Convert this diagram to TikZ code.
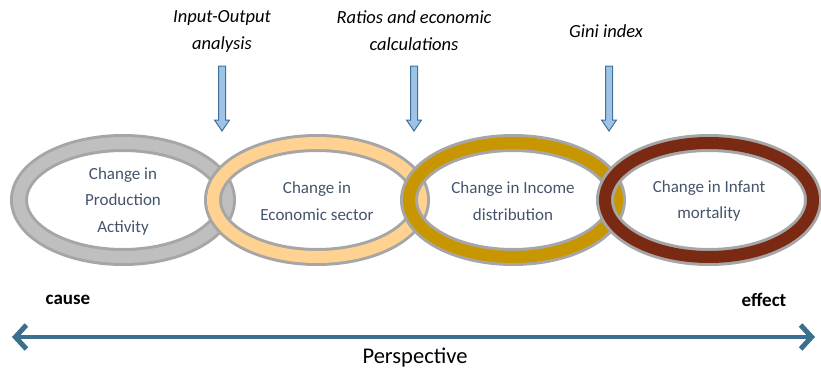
\documentclass[tikz,border=0pt]{standalone}
\usepackage{fontspec}
\setmainfont{Carlito}
\usepackage{tikz}
\usetikzlibrary{calc, positioning, arrows.meta}
\definecolor{ringgray}{RGB}{191,191,191}
\definecolor{ringedge}{RGB}{166,166,166}
\definecolor{sector}{RGB}{255,210,145}
\definecolor{income}{RGB}{200,150,0}
\definecolor{infant}{RGB}{122,42,18}
\definecolor{ringtxt}{RGB}{68,84,106}
\definecolor{pfill}{RGB}{157,195,230}
\definecolor{pedge}{RGB}{65,113,156}
\definecolor{persp}{RGB}{58,111,143}
\newcommand\chainring[4]{\draw[line width=18pt, draw=ringedge] (#1,200) ellipse [x radius=104, y radius=57];\draw[line width=12pt, draw=#3] (#1,200) ellipse [x radius=104, y radius=57];\node[ringtext] (#2) at (#1,201) {#4};}
\newcommand\toolarrow[2]{\coordinate (#1) at (#2,131);\filldraw[fill=pfill, draw=pedge, line width=1pt, shift={(#1)}] (-3.5,-65) -- (-3.5,-11) -- (-7.5,-11) -- (0,0) -- (7.5,-11) -- (3.5,-11) -- (3.5,-65) -- cycle;}

\begin{document}
\begin{tikzpicture}[x=1pt, y=-1pt,
	ringtext/.style={text=ringtxt, align=center, font=\fontsize{17}{26.5}\selectfont},
	tooltext/.style={align=center, font=\fontsize{18.5}{27}\selectfont\itshape},
	endtext/.style={font=\fontsize{19}{22}\selectfont\bfseries}]
\useasboundingbox (0,0) rectangle (821,375);
	\chainring{123}{prod}{ringgray}{Change in\\Production\\Activity}
	\chainring{317}{sect}{sector}{Change in\\Economic sector}
	\chainring{513}{inc}{income}{Change in Income\\distribution}
	\chainring{709}{inf}{infant}{Change in Infant\\mortality}

	\node[tooltext] (io) at (222,31) {Input-Output\\analysis};
	\node[tooltext] (ratio) at (414,31) {Ratios and economic\\calculations};
	\node[tooltext] (gini) at (606,31) {Gini index};
	\toolarrow{ioTip}{222}
	\toolarrow{ratioTip}{414}
	\toolarrow{giniTip}{609}

	\node[endtext] (cause) at (68,300) {cause};
	\node[endtext] (effect) at (764,300) {effect};
	\coordinate (lend) at (12,337);
	\coordinate (rend) at (815,337);
	\draw[persp, line width=4pt, {Straight Barb[length=11pt, width=24pt, line width=5pt]}-{Straight Barb[length=11pt, width=24pt, line width=5pt]}] (lend) -- (rend);
	\node[font=\fontsize{22.5}{26}\selectfont] (persp) at (415,358) {Perspective};
\end{tikzpicture}
\end{document}
